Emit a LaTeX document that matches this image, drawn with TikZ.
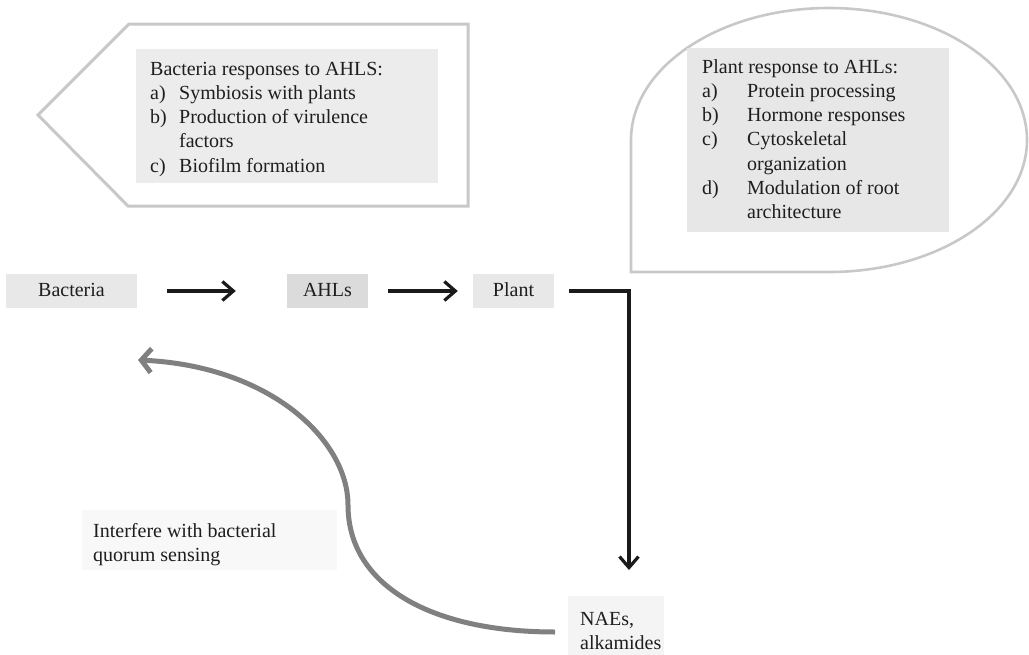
\documentclass[tikz,border=0pt]{standalone}
\usepackage{fontspec}
\setmainfont{Liberation Serif}
\usetikzlibrary{arrows.meta}
\definecolor{outlinegray}{HTML}{C8C8C8}
\definecolor{listfill}{HTML}{ECECEC}
\definecolor{listfilltwo}{HTML}{E7E7E7}
\definecolor{stepfill}{HTML}{E8E8E9}
\definecolor{signalfill}{HTML}{DBDBDC}
\definecolor{notefill}{HTML}{F8F8F8}
\definecolor{productfill}{HTML}{F4F4F4}
\definecolor{inkblack}{HTML}{1A1A1A}
\definecolor{curvegray}{HTML}{808080}
\definecolor{textdark}{HTML}{1E1E1E}

\begin{document}
\begin{tikzpicture}[x=1pt, y=-1pt,
  every node/.style={font=\fontsize{20}{24.3}\selectfont, text=textdark},
  outline/.style={draw=outlinegray, line width=3pt, line join=miter},
  panel/.style={anchor=north west, inner sep=0pt, draw=none},
  listtext/.style={anchor=base west, inner sep=0pt},
  stepbox/.style={inner sep=0pt, minimum height=34pt, text height=14pt, text depth=4pt},
  blackarrow/.style={draw=inkblack, line width=3.2pt,
    -{Straight Barb[length=11pt, width=19pt]}},
  grayarrow/.style={draw=curvegray, line width=5pt,
    -{Straight Barb[length=10pt, width=24pt]}}
]
\useasboundingbox (0,0) rectangle (1029,654);

% callout shapes behind the response lists
\draw[outline] (38,115) -- (129,24) -- (468,24) -- (468,206) -- (128,206) -- cycle;
\draw[outline, line width=2.6pt] (631,272) -- (631,140)
  arc[start angle=180, end angle=450, x radius=198, y radius=132] -- cycle;

% bacterial responses
\node[panel, fill=listfill, minimum width=302pt, minimum height=134pt] (bactpanel) at (136,49) {};
\node[listtext] (bactlist) at (150,75) {%
  \begin{tabular}[t]{@{}p{29pt}@{}l@{}}
  \multicolumn{2}{@{}l@{}}{Bacteria responses to AHLS:}\\
  a) & Symbiosis with plants\\
  b) & Production of virulence\\
     & factors\\
  c) & Biofilm formation
  \end{tabular}};

% plant responses
\node[panel, fill=listfilltwo, minimum width=262pt, minimum height=184pt] (plantpanel) at (687,48) {};
\node[listtext] (plantlist) at (702,73) {%
  \begin{tabular}[t]{@{}p{45pt}@{}l@{}}
  \multicolumn{2}{@{}l@{}}{Plant response to AHLs:}\\
  a) & Protein processing\\
  b) & Hormone responses\\
  c) & Cytoskeletal\\
     & organization\\
  d) & Modulation of root\\
     & architecture
  \end{tabular}};

% main signalling chain
\node[stepbox, fill=stepfill, minimum width=131pt] (bacteria) at (71.5,291) {Bacteria};
\node[stepbox, fill=signalfill, minimum width=81pt] (ahls) at (327.5,291) {AHLs};
\node[stepbox, fill=stepfill, minimum width=81pt] (plant) at (513.5,291) {Plant};

% plant products
\node[panel, fill=productfill, minimum width=96pt, minimum height=80pt] (naes) at (568,596) {};
\node[listtext] (naestext) at (580,625) {%
  \begin{tabular}[t]{@{}l@{}}NAEs,\\ alkamides\end{tabular}};

% effect on quorum sensing
\node[panel, fill=notefill, minimum width=255pt, minimum height=60pt] (qsbox) at (82,510) {};
\node[listtext] (qstext) at (93,537) {%
  \begin{tabular}[t]{@{}l@{}}Interfere with bacterial\\ quorum sensing\end{tabular}};

% connectors
\coordinate (turn) at (629,291);
\coordinate (qsstart) at (555,632);
\coordinate (qsbend) at (348,505);
\coordinate (qsend) at (138,360);

\draw[blackarrow, shorten <=30pt, shorten >=51pt] (bacteria) -- (ahls);
\draw[blackarrow, shorten <=20pt, shorten >=15pt] (ahls) -- (plant);
\draw[blackarrow, shorten <=15pt, shorten >=26pt] (plant.east) -| (naes.north -| turn);
\draw[grayarrow] (qsstart) .. controls (430,632) and (348,585) .. (qsbend)
  .. controls (348,440) and (270,366) .. (qsend);
\end{tikzpicture}
\end{document}
